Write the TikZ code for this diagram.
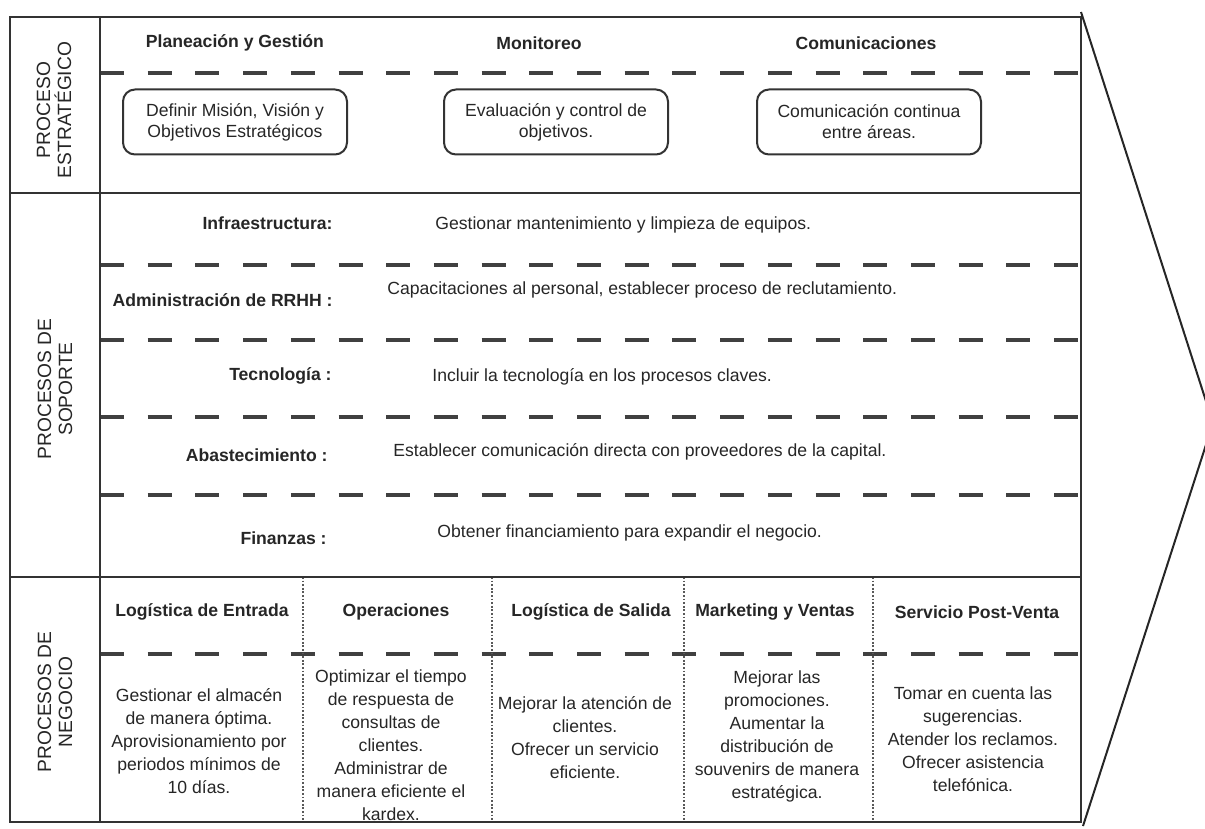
\documentclass[tikz,border=0pt]{standalone}
\usepackage{fontspec}
\setmainfont{Liberation Sans}

\begin{document}
\begin{tikzpicture}[x=0.5pt,y=-0.5pt,inner sep=1pt,
 font=\fontsize{8.8}{11.5}\selectfont,
 every node/.style={text=black!85},
 head/.style={font=\fontsize{8.8}{11.5}\selectfont\bfseries},
 lane/.style={rotate=90,align=center,font=\fontsize{9.6}{10.4}\selectfont},
 goal/.style={draw=black!80,line width=1pt,rounded corners=6pt,minimum width=112pt,minimum height=32.5pt,align=center,font=\fontsize{8.8}{10.5}\selectfont},
 cell/.style={align=center},
 frame/.style={draw=black!80,line width=1.2pt},
 sep/.style={draw=black!75,line width=1.8pt,dash pattern=on 12pt off 11.85pt},
 col/.style={draw=black!65,line width=0.9pt,dash pattern=on 0.9pt off 0.9pt}]
 \path[use as bounding box,clip] (0,0) rectangle (1205,829);

 \foreach \y in {73,265,340,417,495,654}
  \draw[sep] (100,\y) -- (1081,\y);
 \foreach \x in {303,492,684,873}
  \draw[col] (\x,577) -- (\x,822);
 \draw[frame] (10,17) rectangle (1081,822);
 \draw[frame] (100,17) -- (100,822);
 \draw[frame] (10,193) -- (1081,193);
 \draw[frame] (10,577) -- (1081,577);
 \draw[black!85,line width=1pt] (1081,12) -- (1213,423) -- (1083,826);

 \node[lane] (strat) at (54,110) {PROCESO\\ESTRATÉGICO};
 \node[lane] (sop) at (55,389) {PROCESOS DE\\SOPORTE};
 \node[lane] (neg) at (55,702) {PROCESOS DE\\NEGOCIO};

 \node[head] (plan) at (235,43) {Planeación y Gestión};
 \node[head] (moni) at (539,43) {Monitoreo};
 \node[head] (comu) at (866,43) {Comunicaciones};
 \node[goal] (mision) at (235,122) {Definir Misión, Visión y\\Objetivos Estratégicos};
 \node[goal] (eval) at (556,122) {Evaluación y control de\\objetivos.};
 \node[goal] (cont) at (869,122) {Comunicación continua\\entre áreas.};

 \node[head,anchor=east] (infra) at (335,223) {Infraestructura:};
 \node[head,anchor=east] (rrhh) at (335,300) {Administración de RRHH :};
 \node[head,anchor=east] (tec) at (334,376) {Tecnología :};
 \node[head,anchor=east] (abas) at (330,455) {Abastecimiento :};
 \node[head,anchor=east] (fin) at (329,538) {Finanzas :};
 \node[anchor=west] (infra-t) at (433,225) {Gestionar mantenimiento y limpieza de equipos.};
 \node[anchor=west] (rrhh-t) at (385,290) {Capacitaciones al personal, establecer proceso de reclutamiento.};
 \node[anchor=west] (tec-t) at (430,377) {Incluir la tecnología en los procesos claves.};
 \node[anchor=west] (abas-t) at (391,452) {Establecer comunicación directa con proveedores de la capital.};
 \node[anchor=west] (fin-t) at (435,533) {Obtener financiamiento para expandir el negocio.};

 \node[head] (le) at (202,612) {Logística de Entrada};
 \node[head] (op) at (396,612) {Operaciones};
 \node[head] (ls) at (591,612) {Logística de Salida};
 \node[head] (mv) at (775,612) {Marketing y Ventas};
 \node[head] (spv) at (977,612) {Servicio Post-Venta};
 \node[cell] (le-t) at (199,741) {Gestionar el almacén\\de manera óptima.\\Aprovisionamiento por\\periodos mínimos de\\10 días.};
 \node[cell] (op-t) at (391,745) {Optimizar el tiempo\\de respuesta de\\consultas de\\clientes.\\Administrar de\\manera eficiente el\\kardex.};
 \node[cell] (ls-t) at (585,738) {Mejorar la atención de\\clientes.\\Ofrecer un servicio\\eficiente.};
 \node[cell] (mv-t) at (777,736) {Mejorar las\\promociones.\\Aumentar la\\distribución de\\souvenirs de manera\\estratégica.};
 \node[cell] (spv-t) at (973,739) {Tomar en cuenta las\\sugerencias.\\Atender los reclamos.\\Ofrecer asistencia\\telefónica.};
\end{tikzpicture}
\end{document}
